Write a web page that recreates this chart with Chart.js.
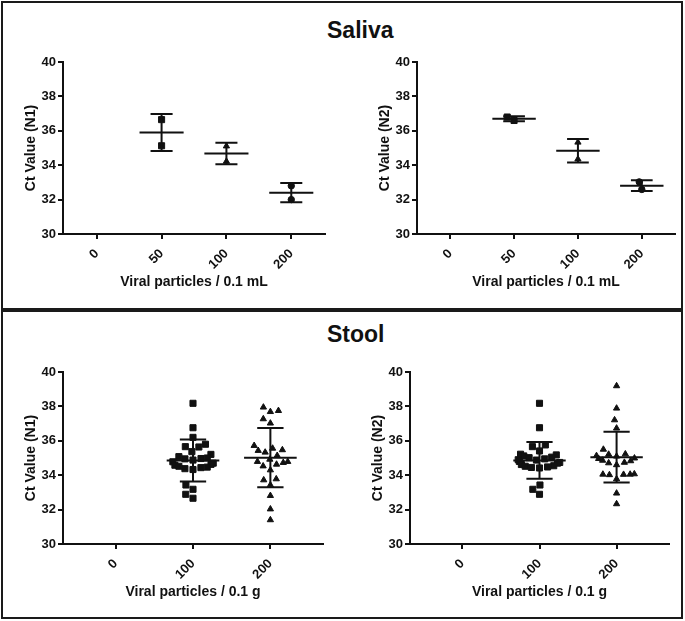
<!DOCTYPE html>
<html>
<head>
<meta charset="utf-8">
<script src="https://cdn.jsdelivr.net/npm/chart.js@4.4.0/dist/chart.umd.min.js"></script>
<style>
  body { margin: 0; background: #fff; font-family: 'Liberation Sans', Arial, sans-serif; }
  #page { position: relative; width: 685px; height: 621px; overflow: hidden; background: #fff; }
  .panel { position: absolute; left: 1px; width: 678px; height: 305px; border: 2px solid #1a1a1a; }
  .panel-title { position: absolute; left: 327px; font-weight: bold; font-size: 23px; line-height: 23px; color: #111; }
  canvas { position: absolute; }
</style>
</head>
<body>
<div id="page">
  <div class="panel" style="top:1px"></div>
  <div class="panel" style="top:310px"></div>
  <div class="panel-title" style="top:19px">Saliva</div>
  <div class="panel-title" style="top:323px">Stool</div>
  <canvas id="salivaN1" width="316" height="254" style="left:19px;top:40px"></canvas>
  <canvas id="salivaN2" width="312" height="254" style="left:373px;top:40px"></canvas>
  <canvas id="stoolN1" width="314" height="254" style="left:19px;top:350px"></canvas>
  <canvas id="stoolN2" width="313" height="254" style="left:366px;top:350px"></canvas>
</div>
<script>
// categories (x tick labels)
const salivaLabels = ['0', '50', '100', '200'];
const stoolLabels = ['0', '100', '200'];

// Ct values per category
const salivaN1 = [[], [36.65, 35.13], [35.11, 34.22], [32.80, 32.00]];
const salivaN2 = [[], [36.60, 36.80], [35.33, 34.35], [32.59, 33.03]];

const stoolN1 = [
  [],
  [38.18, 36.76, 36.20, 35.80, 35.66, 35.64, 35.37, 35.21, 35.08, 35.00, 34.97, 34.95, 34.88,
   34.78, 34.70, 34.63, 34.58, 34.52, 34.47, 34.44, 34.38, 34.33, 33.43, 33.18, 32.89, 32.66],
  [37.95, 37.75, 37.69, 37.27, 37.02, 35.72, 35.56, 35.47, 35.43, 35.33, 35.14, 34.92,
   34.79, 34.79, 34.73, 34.63, 34.53, 34.30, 33.78, 33.72, 33.43, 32.81, 32.03, 31.40]
];
const stoolN2 = [
  [],
  [38.18, 36.76, 35.76, 35.66, 35.41, 35.22, 35.18, 35.12, 35.05, 35.02, 34.95, 34.90, 34.88,
   34.80, 34.74, 34.70, 34.62, 34.55, 34.52, 34.48, 34.45, 34.42, 33.43, 33.18, 32.89],
  [39.19, 37.89, 37.21, 36.73, 35.50, 35.23, 35.21, 35.13, 35.10, 34.99, 34.96, 34.86,
   34.83, 34.74, 34.71, 34.60, 34.07, 34.05, 34.05, 34.04, 34.02, 33.78, 32.95, 32.33]
];

// mean and SD bars as drawn in the figure
const salivaN1Mean = [null, 35.90, 34.68, 32.40];
const salivaN1Sd = [null, 1.07, 0.63, 0.56];
const salivaN2Mean = [null, 36.70, 34.84, 32.81];
const salivaN2Sd = [null, 0.14, 0.69, 0.31];
const stoolN1Mean = [null, 34.85, 35.02];
const stoolN1Sd = [null, 1.22, 1.72];
const stoolN2Mean = [null, 34.86, 35.05];
const stoolN2Sd = [null, 1.07, 1.48];

const yTicks = [30, 32, 34, 36, 38, 40];

const FONT = "'Liberation Sans', Arial, sans-serif";
const INK = '#111';

// draws mean line + SD whiskers for each category
const meanSdPlugin = {
  id: 'meanSd',
  afterDatasetsDraw(chart, args, opts) {
    const { ctx, scales: { x, y } } = chart;
    const unit = x.getPixelForValue(1) - x.getPixelForValue(0);
    ctx.save();
    ctx.strokeStyle = INK;
    ctx.lineWidth = 2;
    opts.mean.forEach((m, i) => {
      if (m == null) return;
      const cx = x.getPixelForValue(i);
      const ym = y.getPixelForValue(m);
      const yHi = y.getPixelForValue(m + opts.sd[i]);
      const yLo = y.getPixelForValue(m - opts.sd[i]);
      const w = unit * 0.34, c = unit * 0.17;
      ctx.beginPath();
      ctx.moveTo(cx - w, ym); ctx.lineTo(cx + w, ym);
      ctx.moveTo(cx, yHi); ctx.lineTo(cx, yLo);
      ctx.moveTo(cx - c, yHi); ctx.lineTo(cx + c, yHi);
      ctx.moveTo(cx - c, yLo); ctx.lineTo(cx + c, yLo);
      ctx.stroke();
    });
    ctx.restore();
  }
};

// simple beeswarm: push overlapping points sideways (pixel space),
// then squeeze wide rows so the cloud stays about as wide as the mean line
function swarm(values, pxPerUnit, d, cap) {
  const order = values.map((v, i) => i).sort((a, b) => values[a] - values[b]);
  const placed = [];
  const out = new Array(values.length).fill(0);
  order.forEach(i => {
    const py = values[i] * pxPerUnit;
    const cands = [0];
    placed.forEach(p => {
      const dy = Math.abs(p.y - py);
      if (dy < d) {
        const dx = Math.sqrt(d * d - dy * dy);
        cands.push(p.x + dx, p.x - dx);
      }
    });
    cands.sort((a, b) => Math.abs(a) - Math.abs(b) || a - b);
    const px = cands.find(cx => placed.every(p => (p.x - cx) ** 2 + (p.y - py) ** 2 >= d * d - 0.01));
    placed.push({ x: px, y: py });
    out[i] = px;
  });
  return out.map(o => cap * Math.tanh(o / cap));
}

const radius = { rect: 4.3, triangle: 3.6, circle: 3.2 };

function makeChart(id, labels, groups, styles, mean, sd, yTitle, xTitle, xMin, xMax, spread) {
  const datasets = groups.map((vals, i) => ({
    data: vals.map(v => ({ x: i, y: v })),
    pointStyle: styles[i],
    pointRadius: radius[styles[i]],
    pointBackgroundColor: INK,
    pointBorderColor: INK,
    pointBorderWidth: 1,
    showLine: false
  }));

  const chart = new Chart(document.getElementById(id), {
    type: 'scatter',
    data: { datasets },
    options: {
      responsive: false,
      animation: false,
      layout: { padding: { top: 22, right: 10, bottom: 0, left: 0 } },
      plugins: {
        legend: { display: false },
        tooltip: { enabled: false },
        meanSd: { mean, sd }
      },
      scales: {
        x: {
          type: 'linear',
          min: xMin,
          max: xMax,
          afterBuildTicks: s => { s.ticks = labels.map((l, i) => ({ value: i })); },
          afterFit: s => { s.height = 60; },
          border: { color: INK, width: 2 },
          grid: { drawOnChartArea: false, color: INK, lineWidth: 2, tickLength: 5 },
          ticks: {
            autoSkip: false,
            minRotation: 45,
            maxRotation: 45,
            padding: 7,
            color: INK,
            font: { family: FONT, size: 13, weight: 'bold' },
            callback: v => labels[v]
          },
          title: {
            display: true,
            text: xTitle,
            color: INK,
            padding: { top: 0, bottom: 3 },
            font: { family: FONT, size: 14, weight: 'bold' }
          }
        },
        y: {
          min: 30,
          max: 40,
          afterBuildTicks: s => { s.ticks = yTicks.map(v => ({ value: v })); },
          afterFit: s => { s.width = 44; },
          border: { color: INK, width: 2 },
          grid: { drawOnChartArea: false, color: INK, lineWidth: 2, tickLength: 5 },
          ticks: {
            padding: 2,
            color: INK,
            font: { family: FONT, size: 13, weight: 'bold' }
          },
          title: {
            display: true,
            text: yTitle,
            color: INK,
            padding: { top: 4, bottom: 0 },
            font: { family: FONT, size: 14, weight: 'bold' }
          }
        }
      }
    },
    plugins: [meanSdPlugin]
  });

  // second pass: spread points sideways now that pixel scales are known
  const ux = chart.scales.x.getPixelForValue(1) - chart.scales.x.getPixelForValue(0);
  const uy = chart.scales.y.getPixelForValue(30) - chart.scales.y.getPixelForValue(31);
  groups.forEach((vals, i) => {
    const offs = swarm(vals, uy, spread, ux * 0.29);
    chart.data.datasets[i].data = vals.map((v, k) => ({ x: i + offs[k] / ux, y: v }));
  });
  chart.update('none');
  return chart;
}

const salivaStyles = ['circle', 'rect', 'triangle', 'circle'];
const stoolStyles = ['circle', 'rect', 'triangle'];

makeChart('salivaN1', salivaLabels, salivaN1, salivaStyles, salivaN1Mean, salivaN1Sd,
  'Ct Value (N1)', 'Viral particles / 0.1 mL', -0.52, 3.52, 8);
makeChart('salivaN2', salivaLabels, salivaN2, salivaStyles, salivaN2Mean, salivaN2Sd,
  'Ct Value (N2)', 'Viral particles / 0.1 mL', -0.52, 3.52, 8);
makeChart('stoolN1', stoolLabels, stoolN1, stoolStyles, stoolN1Mean, stoolN1Sd,
  'Ct Value (N1)', 'Viral particles / 0.1 g', -0.68, 2.68, 8.5);
makeChart('stoolN2', stoolLabels, stoolN2, stoolStyles, stoolN2Mean, stoolN2Sd,
  'Ct Value (N2)', 'Viral particles / 0.1 g', -0.68, 2.68, 8.5);
</script>
</body>
</html>
